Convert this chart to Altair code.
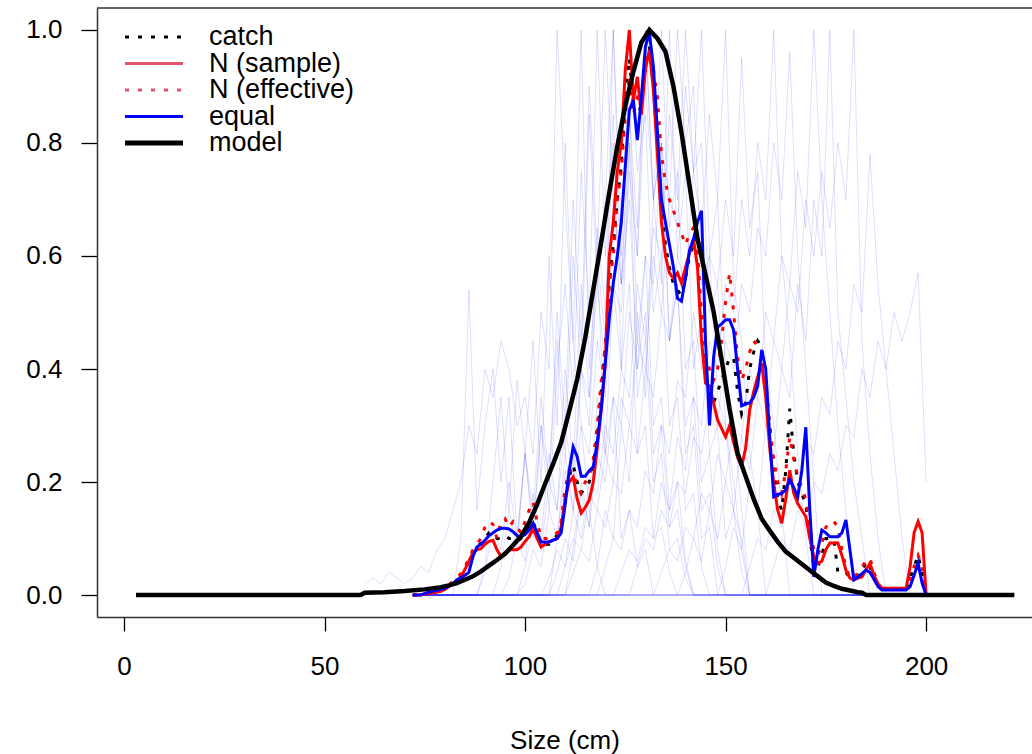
import altair as alt
import pandas as pd

# ---------------- data ----------------
SIZE = list(range(72, 201))  # cm, 1-cm bins for the observed compositions

EQUAL = [0, 0, 0, 0.003, 0.005, 0.007, 0.008, 0.01, 0.012, 0.015,
         0.02, 0.027, 0.03, 0.035, 0.04, 0.068, 0.085, 0.09, 0.097, 0.105,
         0.11, 0.115, 0.118, 0.118, 0.117, 0.112, 0.105, 0.103, 0.107, 0.115,
         0.127, 0.11, 0.094, 0.094, 0.094, 0.097, 0.1, 0.11, 0.16, 0.22,
         0.262, 0.245, 0.21, 0.21, 0.22, 0.227, 0.27, 0.33, 0.41, 0.49,
         0.552, 0.6, 0.66, 0.76, 0.858, 0.876, 0.805, 0.88, 0.97, 0.995,
         0.935, 0.82, 0.7, 0.66, 0.62, 0.58, 0.525, 0.52, 0.56, 0.61,
         0.63, 0.66, 0.68, 0.45, 0.3, 0.42, 0.474, 0.48, 0.487, 0.487,
         0.469, 0.4, 0.335, 0.338, 0.34, 0.35, 0.37, 0.434, 0.4, 0.28,
         0.174, 0.178, 0.18, 0.186, 0.204, 0.19, 0.174, 0.22, 0.297, 0.15,
         0.032, 0.08, 0.115, 0.11, 0.103, 0.103, 0.103, 0.11, 0.133, 0.08,
         0.027, 0.032, 0.038, 0.044, 0.04, 0.028, 0.015, 0.009, 0.009, 0.009,
         0.009, 0.009, 0.009, 0.009, 0.015, 0.035, 0.056, 0.021, 0.0]

N_SAMPLE = [0, 0, 0, 0.002, 0.003, 0.004, 0.005, 0.007, 0.01, 0.015,
            0.02, 0.026, 0.032, 0.045, 0.06, 0.075, 0.08, 0.082, 0.09, 0.095,
            0.097, 0.08, 0.068, 0.075, 0.08, 0.08, 0.08, 0.085, 0.095, 0.103,
            0.118, 0.1, 0.085, 0.09, 0.094, 0.097, 0.1, 0.12, 0.17, 0.2,
            0.209, 0.17, 0.145, 0.155, 0.168, 0.2, 0.26, 0.33, 0.41, 0.6,
            0.66, 0.75, 0.8, 0.93, 1.0, 0.876, 0.917, 0.85, 0.93, 0.965,
            0.894, 0.78, 0.66, 0.6, 0.57, 0.56, 0.57, 0.552, 0.58, 0.605,
            0.63, 0.58, 0.45, 0.375, 0.37, 0.34, 0.31, 0.295, 0.28, 0.3,
            0.27, 0.244, 0.227, 0.26, 0.327, 0.36, 0.386, 0.41, 0.35, 0.26,
            0.198, 0.15, 0.127, 0.17, 0.221, 0.18, 0.162, 0.15, 0.139, 0.1,
            0.068, 0.056, 0.06, 0.08, 0.092, 0.092, 0.092, 0.07, 0.044, 0.03,
            0.027, 0.03, 0.032, 0.045, 0.056, 0.035, 0.02, 0.012, 0.012, 0.012,
            0.012, 0.012, 0.012, 0.012, 0.05, 0.11, 0.13, 0.11, 0.0]

N_EFFECTIVE = [0, 0, 0, 0.002, 0.003, 0.004, 0.005, 0.008, 0.012, 0.018,
               0.024, 0.03, 0.038, 0.05, 0.065, 0.08, 0.09, 0.1, 0.12, 0.13,
               0.125, 0.1, 0.13, 0.135, 0.12, 0.13, 0.12, 0.11, 0.13, 0.15,
               0.165, 0.13, 0.1, 0.1, 0.1, 0.105, 0.11, 0.13, 0.19, 0.22,
               0.22, 0.19, 0.18, 0.2, 0.21, 0.24, 0.3, 0.38, 0.44, 0.55,
               0.6, 0.7, 0.75, 0.85, 0.92, 0.85, 0.88, 0.87, 0.94, 0.96,
               0.93, 0.88, 0.78, 0.73, 0.7, 0.68, 0.66, 0.64, 0.62, 0.64,
               0.65, 0.6, 0.5, 0.42, 0.4, 0.38, 0.4, 0.45, 0.52, 0.57,
               0.5, 0.42, 0.38, 0.4, 0.43, 0.45, 0.44, 0.43, 0.36, 0.3,
               0.24, 0.2, 0.18, 0.22, 0.28, 0.24, 0.21, 0.19, 0.17, 0.12,
               0.08, 0.07, 0.09, 0.12, 0.13, 0.13, 0.12, 0.08, 0.05, 0.03,
               0.03, 0.04, 0.05, 0.06, 0.065, 0.04, 0.02, 0.01, 0.01, 0.01,
               0.01, 0.01, 0.01, 0.01, 0.03, 0.05, 0.07, 0.05, 0.0]

CATCH = [0, 0, 0, 0.002, 0.003, 0.004, 0.005, 0.007, 0.01, 0.015,
         0.02, 0.028, 0.034, 0.045, 0.06, 0.075, 0.09, 0.09, 0.1, 0.11,
         0.11, 0.1, 0.1, 0.105, 0.1, 0.1, 0.095, 0.1, 0.11, 0.12,
         0.13, 0.11, 0.09, 0.09, 0.09, 0.1, 0.105, 0.12, 0.17, 0.21,
         0.23, 0.2, 0.18, 0.19, 0.2, 0.23, 0.28, 0.36, 0.44, 0.55,
         0.62, 0.7, 0.76, 0.88, 0.95, 0.87, 0.86, 0.86, 0.94, 0.97,
         0.9, 0.8, 0.68, 0.62, 0.58, 0.55, 0.54, 0.53, 0.56, 0.6,
         0.62, 0.6, 0.48, 0.38, 0.35, 0.34, 0.36, 0.38, 0.4, 0.42,
         0.42, 0.36, 0.32, 0.34, 0.4, 0.43, 0.45, 0.44, 0.38, 0.3,
         0.22, 0.17, 0.15, 0.22, 0.33, 0.25, 0.2, 0.18, 0.16, 0.1,
         0.05, 0.05, 0.07, 0.1, 0.1, 0.1, 0.04, 0.04, 0.04, 0.03,
         0.03, 0.035, 0.04, 0.06, 0.05, 0.03, 0.015, 0.01, 0.01, 0.01,
         0.01, 0.01, 0.01, 0.01, 0.03, 0.05, 0.07, 0.04, 0.0]

MODEL_X = [3, 59, 60, 65, 70, 75, 79, 81, 83, 85, 87, 89, 91, 93, 95, 97, 99,
           101, 103, 105, 107, 109, 111, 113, 115, 117, 119, 121, 123, 125,
           127, 129, 131, 133, 135, 137, 139, 141, 143, 145, 147, 149, 151,
           153, 155, 157, 159, 161, 163, 165, 167, 169, 171, 173, 175, 177,
           179, 181, 183, 184, 185, 222]
MODEL_Y = [0, 0, 0.004, 0.005, 0.007, 0.01, 0.014, 0.017, 0.021, 0.027, 0.033,
           0.042, 0.052, 0.062, 0.073, 0.088, 0.104, 0.128, 0.16, 0.197,
           0.232, 0.27, 0.325, 0.382, 0.455, 0.54, 0.625, 0.712, 0.794, 0.866,
           0.926, 0.978, 1.0, 0.985, 0.962, 0.9, 0.819, 0.725, 0.63, 0.567,
           0.502, 0.417, 0.329, 0.251, 0.21, 0.17, 0.135, 0.114, 0.094, 0.077,
           0.066, 0.055, 0.044, 0.033, 0.022, 0.016, 0.011, 0.008, 0.005,
           0.004, 0, 0]

# faint yearly compositions (percent of own maximum), 2-cm steps from a start size
FAINT_PAD = (72, 200, 2)
FAINT_START = {"g01": 84, "g02": 90, "g03": 90, "g04": 94, "g05": 96, "g06": 100,
               "g07": 100, "g08": 108, "g09": 106, "g10": 110, "g11": 112,
               "g12": 120, "g13": 124, "g14": 128, "g15": 134, "g16": 156,
               "g17": 162, "g18": 60, "g19": 118, "g20": 112, "g21": 108,
               "g22": 150, "g23": 140}
G01 = [10, 54, 15, 30, 40, 20, 35, 10, 25, 45, 20, 60, 30, 80, 45, 100, 40, 60, 25, 35, 10, 15, 5, 8, 0]
G02 = [5, 20, 35, 15, 38, 25, 10, 30, 15, 40, 55, 35, 75, 50, 100, 60, 85, 40, 55, 25, 30, 10, 12, 4, 0]
G03 = [4, 12, 8, 20, 10, 25, 15, 35, 20, 50, 30, 70, 45, 90, 60, 100, 70, 55, 80, 35, 45, 20, 25, 8, 10, 3, 0]
G04 = [5, 15, 8, 25, 12, 30, 20, 45, 25, 60, 40, 85, 55, 70, 100, 65, 90, 45, 60, 30, 35, 15, 20, 6, 0]
G05 = [3, 10, 6, 18, 10, 25, 15, 40, 22, 55, 35, 65, 50, 80, 60, 100, 75, 85, 50, 60, 30, 35, 15, 18, 5, 0]
G06 = [5, 12, 8, 20, 15, 30, 20, 40, 35, 55, 40, 70, 55, 85, 65, 100, 70, 80, 45, 55, 25, 30, 10, 12, 0]
G07 = [2, 8, 5, 15, 10, 22, 15, 30, 25, 45, 35, 55, 50, 75, 60, 90, 70, 100, 65, 75, 40, 45, 20, 25, 8, 0]
G08 = [4, 10, 6, 18, 12, 25, 20, 35, 30, 50, 40, 60, 55, 80, 70, 100, 80, 90, 55, 60, 35, 30, 15, 10, 0]
G09 = [3, 8, 5, 15, 10, 20, 18, 30, 25, 40, 35, 55, 45, 65, 60, 85, 70, 100, 75, 80, 50, 55, 30, 20, 8, 0]
G10 = [5, 10, 8, 18, 15, 25, 20, 35, 30, 45, 40, 60, 50, 70, 65, 90, 75, 100, 60, 70, 40, 30, 15, 0]
G11 = [4, 8, 6, 15, 12, 20, 18, 30, 25, 40, 35, 50, 45, 60, 55, 75, 65, 85, 70, 100, 55, 45, 25, 15, 0]
G12 = [5, 10, 8, 15, 12, 22, 18, 30, 25, 38, 35, 50, 40, 60, 55, 70, 60, 95, 65, 75, 40, 30, 15, 0]
G13 = [4, 8, 6, 12, 10, 20, 15, 28, 22, 35, 30, 45, 40, 55, 50, 70, 60, 80, 70, 100, 60, 45, 25, 10, 0]
G14 = [5, 10, 8, 15, 12, 20, 18, 28, 25, 35, 30, 45, 40, 55, 50, 65, 60, 80, 70, 96, 60, 40, 20, 0]
G15 = [4, 8, 6, 12, 10, 18, 15, 25, 20, 30, 28, 40, 35, 50, 45, 60, 55, 75, 65, 100, 70, 50, 30, 15, 0]
G16 = [5, 10, 8, 15, 12, 20, 18, 28, 25, 35, 32, 45, 40, 55, 50, 78, 55, 40, 25, 10, 0]
G17 = [5, 10, 8, 15, 12, 20, 18, 25, 22, 30, 28, 40, 35, 45, 40, 50, 45, 50, 57, 20]
G18 = [2, 3, 2, 4, 3, 2, 3, 5, 4, 8, 10, 15, 20, 30, 25, 40, 35, 45, 40, 30, 35, 25, 50, 40, 100, 70, 45, 30, 15, 5, 0]
G19 = [5, 15, 10, 30, 20, 50, 35, 70, 55, 100, 60, 75, 40, 50, 25, 30, 10, 15, 4, 0]
G20 = [8, 20, 12, 35, 25, 55, 40, 80, 60, 100, 70, 80, 45, 55, 30, 35, 15, 18, 5, 0]
G21 = [10, 25, 15, 40, 30, 60, 45, 100, 55, 70, 40, 50, 25, 30, 12, 15, 5, 0]
G22 = [5, 12, 8, 20, 15, 30, 25, 40, 35, 55, 45, 70, 60, 100, 50, 35, 20, 10, 0]
G23 = [4, 10, 6, 15, 10, 20, 15, 28, 22, 35, 30, 45, 40, 55, 50, 70, 60, 75, 65, 80, 70, 100, 45, 25, 10, 0]
FAINT = {"g01": G01, "g02": G02, "g03": G03, "g04": G04, "g05": G05, "g06": G06,
         "g07": G07, "g08": G08, "g09": G09, "g10": G10, "g11": G11, "g12": G12,
         "g13": G13, "g14": G14, "g15": G15, "g16": G16, "g17": G17, "g18": G18,
         "g19": G19, "g20": G20, "g21": G21, "g22": G22, "g23": G23}

X_TICKS = [0, 50, 100, 150, 200]
Y_TICKS = [0.0, 0.2, 0.4, 0.6, 0.8, 1.0]
LEGEND_LABELS = ["catch", "N (sample)", "N (effective)", "equal", "model"]

# ---------------- tables ----------------
p0, p1, ps = FAINT_PAD
frows = []
for name, vals in FAINT.items():
    start = FAINT_START[name]
    lookup = {start + ps * i: v for i, v in enumerate(vals)}
    xs_all = sorted(set(range(p0, p1 + 1, ps)) | set(lookup))
    for xv in xs_all:
        frows.append({"line": name, "x": xv, "y": lookup.get(xv, 0) / 100.0})
faint_df = pd.DataFrame(frows)

obs_df = pd.DataFrame({"x": SIZE, "catch": CATCH, "nsample": N_SAMPLE,
                       "neff": N_EFFECTIVE, "equal": EQUAL})
model_df = pd.DataFrame({"x": MODEL_X, "y": MODEL_Y})

# ---------------- layout ----------------
W, H = 935, 609
LEFT, TOP = 97, 8
FONT = "Liberation Sans"
FS = 26

xs = alt.Scale(domain=[-6.73, 226.4], nice=False, zero=False)
ys = alt.Scale(domain=[-0.0389, 1.0389], nice=False, zero=False)

AX_COMMON = dict(grid=False, labelFlush=False, labelFont=FONT, labelFontSize=FS,
                 labelColor="black", tickColor="black", tickWidth=1.3,
                 domainColor="#333333", domainWidth=1.5, labelOverlap=False)
x_axis = alt.Axis(values=X_TICKS, title="Size (cm)", tickSize=14,
                  labelPadding=43, labelBaseline="alphabetic",
                  titleY=131, titleBaseline="alphabetic", titleFontWeight="normal",
                  titleFontSize=FS, titleFont=FONT, titleColor="black", **AX_COMMON)
y_axis = alt.Axis(values=Y_TICKS, format=".1f", title=None,
                  tickSize=16, labelPadding=19, **AX_COMMON)


def X():
    return alt.X("x:Q", scale=xs, axis=x_axis, title="Size (cm)")


def Y(field):
    return alt.Y(f"{field}:Q", scale=ys, axis=y_axis, title=None)


faint = alt.Chart(faint_df).mark_line(color="#0000FF", strokeWidth=1,
                                      opacity=0.13, clip=True).encode(
    x=X(), y=Y("y"), detail="line:N")

DASH = [4, 9]
catch = alt.Chart(obs_df).mark_line(color="black", strokeWidth=3,
                                    strokeDash=DASH, clip=True).encode(
    x=X(), y=Y("catch"))
nsample = alt.Chart(obs_df).mark_line(color="#FF0000", strokeWidth=3,
                                      clip=True).encode(x=X(), y=Y("nsample"))
neff = alt.Chart(obs_df).mark_line(color="#FF0000", strokeWidth=3,
                                   strokeDash=DASH, clip=True).encode(
    x=X(), y=Y("neff"))
equal = alt.Chart(obs_df).mark_line(color="#0000FF", strokeWidth=3,
                                    clip=True).encode(x=X(), y=Y("equal"))
model = alt.Chart(model_df).mark_line(color="black", strokeWidth=4.5,
                                      clip=True).encode(x=X(), y=Y("y"))

one = pd.DataFrame({"k": [0]})
top_border = alt.Chart(one).mark_rule(color="#333333", strokeWidth=1.5).encode(
    x=alt.value(0), x2=alt.value(W), y=alt.value(0))

# legend (pixel positions inside the plot area)
LEG_Y = [29, 55.5, 82, 108.5, 135]
LEG_COL = ["black", "#DF536B", "#DF536B", "#0000FF", "black"]
LEG_W = [3, 3, 3, 3, 5]
LEG_DASH = [DASH, None, DASH, None, None]
legend_layers = []
for lab, yy, col, lw, dash in zip(LEGEND_LABELS, LEG_Y, LEG_COL, LEG_W, LEG_DASH):
    kw = dict(color=col, strokeWidth=lw)
    if dash:
        kw["strokeDash"] = dash
    legend_layers.append(alt.Chart(one).mark_rule(**kw).encode(
        x=alt.value(28), x2=alt.value(86), y=alt.value(yy)))
    legend_layers.append(alt.Chart(pd.DataFrame({"t": [lab]})).mark_text(
        align="left", baseline="middle", font=FONT, fontSize=27,
        color="black").encode(x=alt.value(112), y=alt.value(yy), text="t:N"))

chart = alt.layer(faint, catch, nsample, neff, equal, model, top_border,
                  *legend_layers).properties(
    width=W, height=H, background="white",
    autosize=alt.AutoSizeParams(type="none"),
    padding={"left": LEFT, "top": TOP, "right": 0, "bottom": 754 - TOP - H},
).configure_view(stroke=None)

chart.save("out.html", embed_options={"renderer": "svg", "actions": False})
